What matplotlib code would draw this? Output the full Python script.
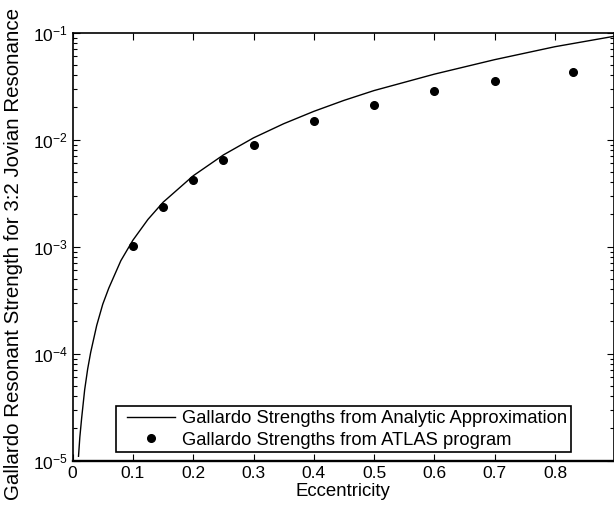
import matplotlib
matplotlib.use("Agg")
import matplotlib.pyplot as plt
from matplotlib.ticker import NullLocator, LogLocator
from matplotlib.legend_handler import HandlerLine2D

plt.rcParams["font.family"] = ["Liberation Sans", "DejaVu Sans"]
plt.rcParams["mathtext.default"] = "regular"

# analytic approximation curve
ecc_curve = [0.0098, 0.012, 0.015, 0.02, 0.025, 0.03, 0.04, 0.05, 0.06, 0.08,
             0.1, 0.125, 0.15, 0.2, 0.25, 0.3, 0.35, 0.4, 0.45, 0.5, 0.6, 0.7,
             0.8, 0.9]
strength_curve = [1.1e-5, 1.66e-5, 2.5e-5, 4.6e-5, 7.2e-5, 1.03e-4, 1.84e-4,
                  2.9e-4, 4.1e-4, 7.4e-4, 1.15e-3, 1.8e-3, 2.6e-3, 4.6e-3,
                  7.2e-3, 1.04e-2, 1.41e-2, 1.84e-2, 2.33e-2, 2.88e-2, 4.1e-2,
                  5.6e-2, 7.4e-2, 9.3e-2]

# ATLAS program points
ecc_atlas = [0.1, 0.15, 0.2, 0.25, 0.3, 0.4, 0.5, 0.6, 0.7, 0.83]
strength_atlas = [1.02e-3, 2.37e-3, 4.2e-3, 6.4e-3, 9.0e-3, 1.49e-2, 2.12e-2,
                  2.83e-2, 3.51e-2, 4.32e-2]

xtick_vals = [0, 0.1, 0.2, 0.3, 0.4, 0.5, 0.6, 0.7, 0.8]
xtick_labels = ["0", "0.1", "0.2", "0.3", "0.4", "0.5", "0.6", "0.7", "0.8"]

fig = plt.figure(figsize=(6.14, 5.09), dpi=100)
ax = fig.add_axes([72.6 / 614, 1 - 460.7 / 509, (613.5 - 72.6) / 614, 428 / 509])

curve, = ax.plot(ecc_curve, strength_curve, "-k", lw=1.0,
                 label="Gallardo Strengths from Analytic Approximation")
ax.plot(ecc_atlas, strength_atlas, "ok", ms=5.5, ls="none",
        label="Gallardo Strengths from ATLAS program")

ax.set_yscale("log")
ax.set_xlim(0, 0.897)
ax.set_ylim(1e-5, 1e-1)
ax.set_xticks(xtick_vals)
ax.set_xticklabels(xtick_labels)
ax.xaxis.set_minor_locator(NullLocator())
ax.yaxis.set_minor_locator(LogLocator(base=10, subs=range(2, 10)))

ax.tick_params(which="both", direction="in", top=True, right=True,
               labelsize=12.5, width=0.8)
ax.tick_params(which="major", length=5)
ax.tick_params(which="minor", length=3)
for side in ax.spines:
    ax.spines[side].set_linewidth(1.2)
ax.spines["bottom"].set_linewidth(1.7)

ax.set_xlabel("Eccentricity", fontsize=13.4, labelpad=1.5)
fig.text(13.5 / 614, 1 - 254 / 509,
         "Gallardo Resonant Strength for 3:2 Jovian Resonance",
         fontsize=14.8, rotation=90, ha="center", va="center")

leg = ax.legend(loc="lower left", bbox_to_anchor=(0.080, 0.0196),
                fontsize=13.2, frameon=True, fancybox=False, framealpha=1,
                edgecolor="black", handlelength=3.43, handletextpad=0.0,
                borderpad=0.2, labelspacing=0.25, borderaxespad=0,
                handler_map={curve: HandlerLine2D(numpoints=2, marker_pad=0.4)})
leg.get_frame().set_linewidth(1.2)

plt.savefig("out.png", dpi=100)
